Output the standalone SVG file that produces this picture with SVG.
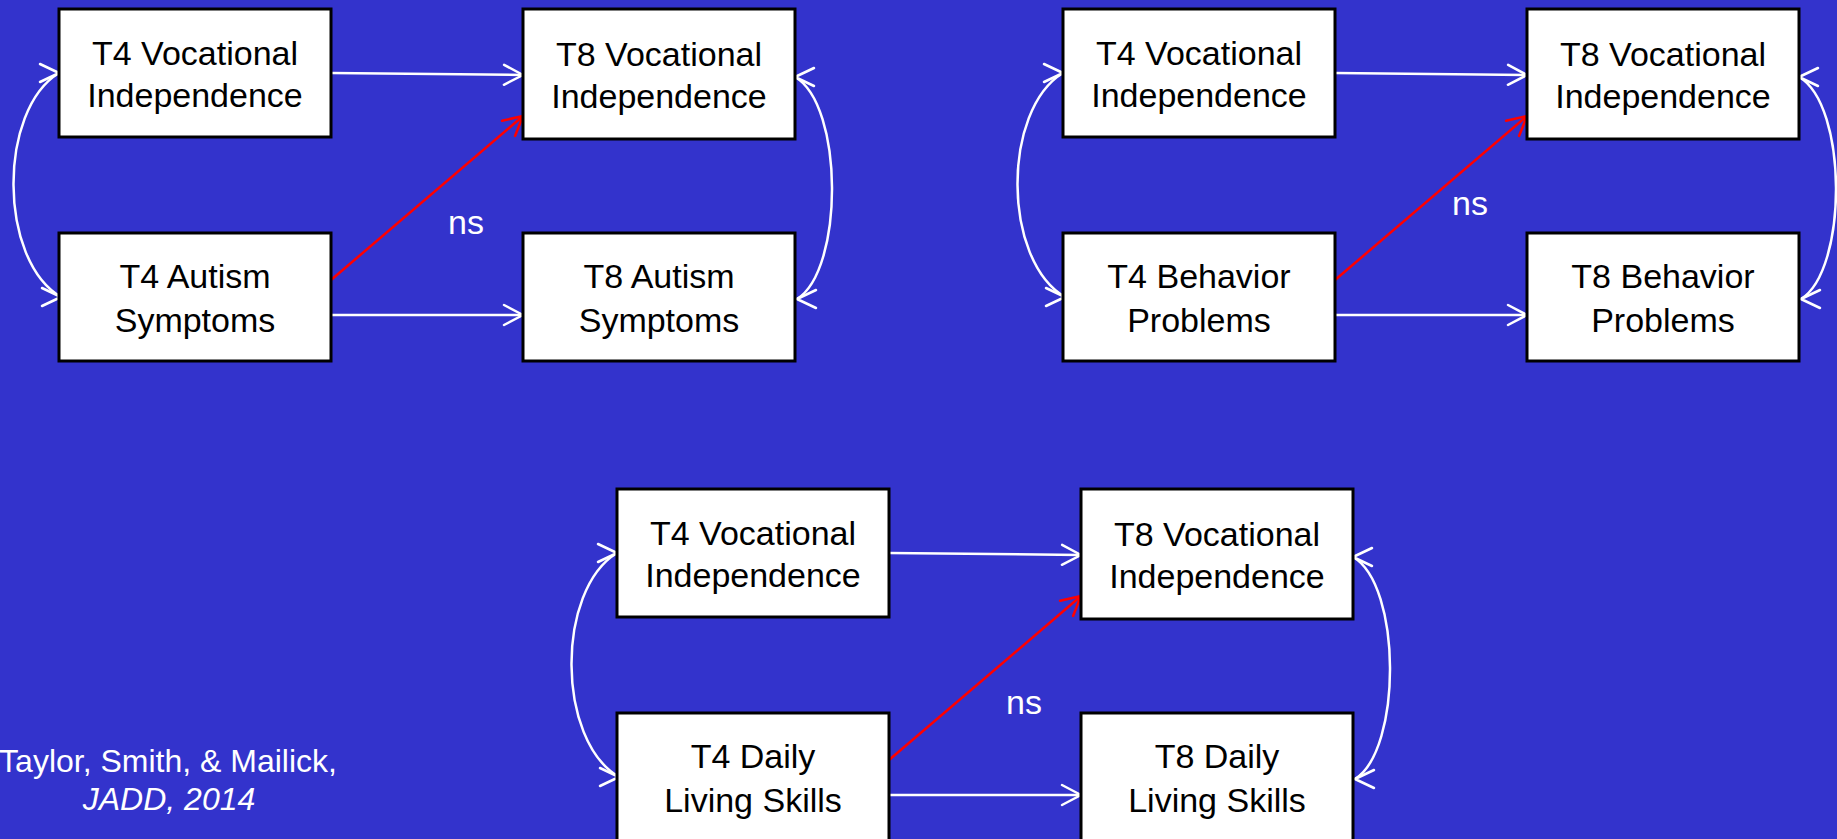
<svg xmlns="http://www.w3.org/2000/svg" width="1837" height="839" viewBox="0 0 1837 839">
<style>
  .bg { fill: #3333CC; }
  .box { fill: #FFFFFF; stroke: #000000; stroke-width: 3; }
  .lbl { font-family: "Liberation Sans", Arial, sans-serif; font-size: 34px; fill: #000000; text-anchor: middle; }
  .ns { font-family: "Liberation Sans", Arial, sans-serif; font-size: 34px; fill: #FFFFFF; }
  .cite { font-family: "Liberation Sans", Arial, sans-serif; font-size: 32px; fill: #FFFFFF; text-anchor: middle; }
  .w { fill: none; stroke: #FFFFFF; stroke-width: 2.5; }
  .r { fill: none; stroke: #FF0000; stroke-width: 2.5; }
</style>
<defs>
  <marker id="ahW" markerUnits="userSpaceOnUse" viewBox="-22 -12 24 24" refX="0" refY="0" markerWidth="24" markerHeight="24" orient="auto" overflow="visible">
    <path d="M-19,-10 L0,0 L-19,10" fill="none" stroke="#FFFFFF" stroke-width="2.5" stroke-linejoin="round" stroke-linecap="round"/>
  </marker>
  <marker id="ahR" markerUnits="userSpaceOnUse" viewBox="-22 -12 24 24" refX="0" refY="0" markerWidth="24" markerHeight="24" orient="auto" overflow="visible">
    <path d="M-19,-10 L0,0 L-19,10" fill="none" stroke="#FF0000" stroke-width="2.5" stroke-linejoin="round" stroke-linecap="round"/>
  </marker>
  <marker id="ahRight" markerUnits="userSpaceOnUse" viewBox="-22 -12 24 24" refX="0" refY="0" markerWidth="24" markerHeight="24" orient="0" overflow="visible">
    <path d="M-19,-9 L0,0 L-19,9" fill="none" stroke="#FFFFFF" stroke-width="2.5" stroke-linejoin="round" stroke-linecap="round"/>
  </marker>
  <marker id="ahLeft" markerUnits="userSpaceOnUse" viewBox="-22 -12 24 24" refX="0" refY="0" markerWidth="24" markerHeight="24" orient="180" overflow="visible">
    <path d="M-19,-9 L0,0 L-19,9" fill="none" stroke="#FFFFFF" stroke-width="2.5" stroke-linejoin="round" stroke-linecap="round"/>
  </marker>
</defs>

<rect class="bg" x="0" y="0" width="1837" height="839"/>

<g id="connectors">
  <!-- panel 1 -->
  <line class="w" x1="331" y1="73" x2="523" y2="75" marker-end="url(#ahW)"/>
  <line class="w" x1="331" y1="315" x2="523" y2="315" marker-end="url(#ahW)"/>
  <line class="r" x1="331" y1="280" x2="523" y2="116" marker-end="url(#ahR)"/>
  <path class="w" d="M59,73 C-2,110 -2,260 61,297" marker-start="url(#ahRight)" marker-end="url(#ahRight)"/>
  <path class="w" d="M795,77 C844,105 844,270 797,299" marker-start="url(#ahLeft)" marker-end="url(#ahLeft)"/>
  <!-- panel 2 -->
  <line class="w" x1="1335" y1="73" x2="1527" y2="75" marker-end="url(#ahW)"/>
  <line class="w" x1="1335" y1="315" x2="1527" y2="315" marker-end="url(#ahW)"/>
  <line class="r" x1="1335" y1="280" x2="1527" y2="116" marker-end="url(#ahR)"/>
  <path class="w" d="M1063,73 C1002,110 1002,260 1065,297" marker-start="url(#ahRight)" marker-end="url(#ahRight)"/>
  <path class="w" d="M1799,77 C1848,105 1848,270 1801,299" marker-start="url(#ahLeft)" marker-end="url(#ahLeft)"/>
  <!-- panel 3 -->
  <line class="w" x1="889" y1="553" x2="1081" y2="555" marker-end="url(#ahW)"/>
  <line class="w" x1="889" y1="795" x2="1081" y2="795" marker-end="url(#ahW)"/>
  <line class="r" x1="889" y1="760" x2="1081" y2="596" marker-end="url(#ahR)"/>
  <path class="w" d="M617,553 C556,590 556,740 619,777" marker-start="url(#ahRight)" marker-end="url(#ahRight)"/>
  <path class="w" d="M1353,557 C1402,585 1402,750 1355,779" marker-start="url(#ahLeft)" marker-end="url(#ahLeft)"/>
  <text class="ns" x="448" y="234">ns</text>
  <text class="ns" x="1452" y="215">ns</text>
  <text class="ns" x="1006" y="714">ns</text>
</g>

<!-- Panel 1 -->
<g id="p1-t4-voc">
  <rect class="box" x="59" y="9" width="272" height="128"/>
  <text class="lbl" x="195" y="65">T4 Vocational</text>
  <text class="lbl" x="195" y="107">Independence</text>
</g>
<g id="p1-t8-voc">
  <rect class="box" x="523" y="9" width="272" height="130"/>
  <text class="lbl" x="659" y="66">T8 Vocational</text>
  <text class="lbl" x="659" y="108">Independence</text>
</g>
<g id="p1-t4-autism">
  <rect class="box" x="59" y="233" width="272" height="128"/>
  <text class="lbl" x="195" y="288">T4 Autism</text>
  <text class="lbl" x="195" y="332">Symptoms</text>
</g>
<g id="p1-t8-autism">
  <rect class="box" x="523" y="233" width="272" height="128"/>
  <text class="lbl" x="659" y="288">T8 Autism</text>
  <text class="lbl" x="659" y="332">Symptoms</text>
</g>

<!-- Panel 2 -->
<g id="p2-t4-voc">
  <rect class="box" x="1063" y="9" width="272" height="128"/>
  <text class="lbl" x="1199" y="65">T4 Vocational</text>
  <text class="lbl" x="1199" y="107">Independence</text>
</g>
<g id="p2-t8-voc">
  <rect class="box" x="1527" y="9" width="272" height="130"/>
  <text class="lbl" x="1663" y="66">T8 Vocational</text>
  <text class="lbl" x="1663" y="108">Independence</text>
</g>
<g id="p2-t4-behavior">
  <rect class="box" x="1063" y="233" width="272" height="128"/>
  <text class="lbl" x="1199" y="288">T4 Behavior</text>
  <text class="lbl" x="1199" y="332">Problems</text>
</g>
<g id="p2-t8-behavior">
  <rect class="box" x="1527" y="233" width="272" height="128"/>
  <text class="lbl" x="1663" y="288">T8 Behavior</text>
  <text class="lbl" x="1663" y="332">Problems</text>
</g>

<!-- Panel 3 -->
<g id="p3-t4-voc">
  <rect class="box" x="617" y="489" width="272" height="128"/>
  <text class="lbl" x="753" y="545">T4 Vocational</text>
  <text class="lbl" x="753" y="587">Independence</text>
</g>
<g id="p3-t8-voc">
  <rect class="box" x="1081" y="489" width="272" height="130"/>
  <text class="lbl" x="1217" y="546">T8 Vocational</text>
  <text class="lbl" x="1217" y="588">Independence</text>
</g>
<g id="p3-t4-daily">
  <rect class="box" x="617" y="713" width="272" height="128"/>
  <text class="lbl" x="753" y="768">T4 Daily</text>
  <text class="lbl" x="753" y="812">Living Skills</text>
</g>
<g id="p3-t8-daily">
  <rect class="box" x="1081" y="713" width="272" height="128"/>
  <text class="lbl" x="1217" y="768">T8 Daily</text>
  <text class="lbl" x="1217" y="812">Living Skills</text>
</g>

<g id="citation">
  <text class="cite" x="168" y="771.5">Taylor, Smith, &amp; Mailick,</text>
  <text class="cite" x="169" y="810" font-style="italic">JADD, 2014</text>
</g>
</svg>
